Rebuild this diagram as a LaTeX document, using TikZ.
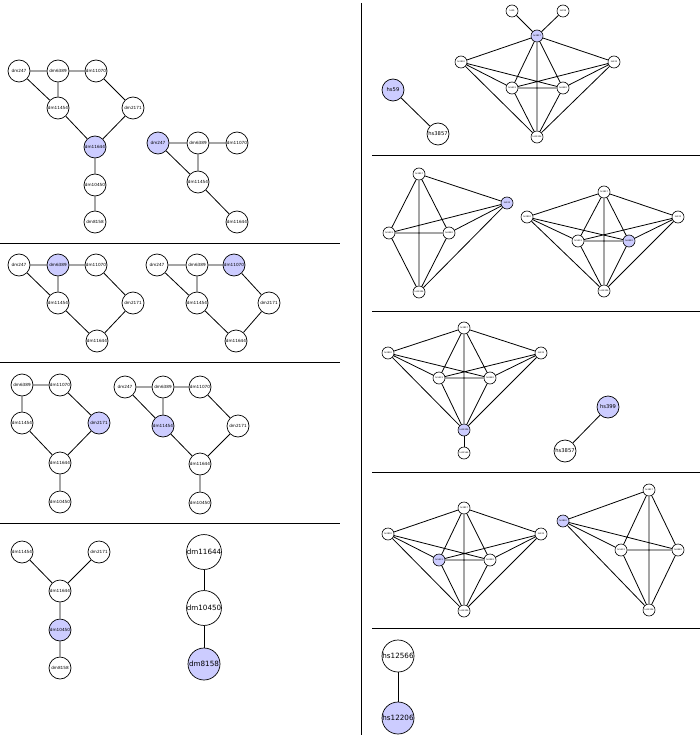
\documentclass[tikz,border=0pt]{standalone}
\usepackage{fontspec}
\setmainfont{DejaVu Sans}
\usetikzlibrary{backgrounds}
\definecolor{hlc}{RGB}{204,204,255}
\tikzset{
  nd/.style={circle, draw, line width=0.7pt, fill=white, minimum size=22pt, inner sep=0pt, font=\fontsize{4.2}{5}\selectfont},
  md/.style={nd, font=\fontsize{5.2}{6}\selectfont},
  tn/.style={circle, draw, line width=0.6pt, fill=white, minimum size=12pt, inner sep=0pt, font=\fontsize{2.1}{2.5}\selectfont},
  bg/.style={nd, minimum size=32pt, font=\fontsize{7.2}{8}\selectfont},
  hl/.style={fill=hlc},
  ed/.style={line width=0.8pt},
  sep/.style={line width=0.7pt}
}
\newcommand\kSixEdges[1]{%
  \draw[ed] (#1t)--(#1l) (#1t)--(#1r) (#1t)--(#1ml) (#1t)--(#1mr) (#1t)--(#1b)
            (#1l)--(#1ml) (#1l)--(#1mr) (#1l)--(#1b)
            (#1r)--(#1ml) (#1r)--(#1mr) (#1r)--(#1b)
            (#1ml)--(#1mr) (#1ml)--(#1b) (#1mr)--(#1b);}
\begin{document}
\begin{tikzpicture}[x=1pt,y=-1pt]
\useasboundingbox (0,0) rectangle (700,738);
% separators
\draw[sep] (361,3) -- (361,735);
\draw[sep] (0,243) -- (340,243) (0,362) -- (340,362) (0,523) -- (340,523);
\draw[sep] (372,155) -- (700,155) (372,311) -- (700,311) (372,472) -- (700,472) (372,628) -- (700,628);

% Graph A
\node[nd] (a247) at (19,71) {dm247};
\node[nd] (a6389) at (58,71) {dm6389};
\node[nd] (a11070) at (96,71) {dm11070};
\node[nd] (a11454) at (58,108) {dm11454};
\node[nd] (a2171) at (133,108) {dm2171};
\node[nd,hl] (a11644) at (95,147) {dm11644};
\node[nd] (a10450) at (95,185) {dm10450};
\node[nd] (a8158) at (95,222) {dm8158};
% Graph B
\node[nd,hl] (b247) at (158,143) {dm247};
\node[nd] (b6389) at (198,143) {dm6389};
\node[nd] (b11070) at (237,143) {dm11070};
\node[nd] (b11454) at (198,182) {dm11454};
\node[nd] (b11644) at (237,222) {dm11644};
% Graph C
\node[nd] (c247) at (19,265) {dm247};
\node[nd,hl] (c6389) at (58,265) {dm6389};
\node[nd] (c11070) at (96,265) {dm11070};
\node[nd] (c11454) at (58,303) {dm11454};
\node[nd] (c2171) at (133,303) {dm2171};
\node[nd] (c11644) at (97,341) {dm11644};
% Graph D
\node[nd] (d247) at (157,265) {dm247};
\node[nd] (d6389) at (197,265) {dm6389};
\node[nd,hl] (d11070) at (234,265) {dm11070};
\node[nd] (d11454) at (197,303) {dm11454};
\node[nd] (d2171) at (269,303) {dm2171};
\node[nd] (d11644) at (236,341) {dm11644};
% Graph E
\node[nd] (e6389) at (22,385) {dm6389};
\node[nd] (e11070) at (60,385) {dm11070};
\node[nd] (e11454) at (22,423) {dm11454};
\node[nd,hl] (e2171) at (99,423) {dm2171};
\node[nd] (e11644) at (60,463) {dm11644};
\node[nd] (e10450) at (60,502) {dm10450};
% Graph F
\node[nd] (f247) at (125,387) {dm247};
\node[nd] (f6389) at (163,387) {dm6389};
\node[nd] (f11070) at (200,387) {dm11070};
\node[nd,hl] (f11454) at (163,426) {dm11454};
\node[nd] (f2171) at (238,426) {dm2171};
\node[nd] (f11644) at (200,464) {dm11644};
\node[nd] (f10450) at (200,503) {dm10450};
% Graph G
\node[nd] (g11454) at (22,552) {dm11454};
\node[nd] (g2171) at (99,552) {dm2171};
\node[nd] (g11644) at (60,591) {dm11644};
\node[nd,hl] (g10450) at (60,630) {dm10450};
\node[nd] (g8158) at (60,668) {dm8158};
% Graph H
\node[bg] (h11644) at (204,552) {dm11644};
\node[bg] (h10450) at (204,608) {dm10450};
\node[bg,hl] (h8158) at (204,664) {dm8158};

% Right R1
\node[md,hl] (p59) at (393,90) {hs59};
\node[md] (p3857) at (438,134) {hs3857};
\node[tn] (q59) at (512,11) {hs59};
\node[tn] (q399) at (563,11) {hs399};
\node[tn,hl] (qt) at (537,36) {hs3857};
\node[tn] (ql) at (461,62) {hs2830};
\node[tn] (qr) at (614,62) {hs222};
\node[tn] (qml) at (512,88) {hs5433};
\node[tn] (qmr) at (563,88) {hs6982};
\node[tn] (qb) at (537,137) {hs12206};
% R2 left
\node[tn] (rt) at (419,174) {hs3857};
\node[tn,hl] (rr) at (507,203) {hs222};
\node[tn] (rml) at (389,233) {hs5433};
\node[tn] (rmr) at (449,233) {hs6982};
\node[tn] (rb) at (419,292) {hs12206};
% R2 right
\node[tn] (st) at (604,192) {hs3857};
\node[tn] (sl) at (527,217) {hs2830};
\node[tn] (sr) at (678,217) {hs222};
\node[tn] (sml) at (578,241) {hs5433};
\node[tn,hl] (smr) at (629,241) {hs6982};
\node[tn] (sb) at (604,291) {hs12206};
% R3
\node[tn] (ut) at (464,328) {hs3857};
\node[tn] (ul) at (388,353) {hs2830};
\node[tn] (ur) at (541,353) {hs222};
\node[tn] (uml) at (439,378) {hs5433};
\node[tn] (umr) at (490,378) {hs6982};
\node[tn,hl] (ub) at (464,430) {hs12206};
\node[tn] (ubb) at (464,453) {hs12566};
\node[md,hl] (v399) at (608,407) {hs399};
\node[md] (v3857) at (565,451) {hs3857};
% R4 left
\node[tn] (wt) at (464,508) {hs3857};
\node[tn] (wl) at (388,534) {hs2830};
\node[tn] (wr) at (541,534) {hs222};
\node[tn,hl] (wml) at (439,560) {hs5433};
\node[tn] (wmr) at (490,560) {hs6982};
\node[tn] (wb) at (464,611) {hs12206};
% R4 right
\node[tn] (xt) at (649,490) {hs3857};
\node[tn,hl] (xl) at (563,521) {hs2830};
\node[tn] (xml) at (621,550) {hs5433};
\node[tn] (xmr) at (678,550) {hs6982};
\node[tn] (xb) at (649,610) {hs12206};
% R5
\node[bg] (y12566) at (398,656) {hs12566};
\node[bg,hl] (y12206) at (398,718) {hs12206};

\begin{pgfonlayer}{background}
\draw[ed] (a247)--(a6389) (a6389)--(a11070) (a247)--(a11454) (a6389)--(a11454)
  (a11454)--(a11644) (a11070)--(a2171) (a2171)--(a11644) (a11644)--(a10450) (a10450)--(a8158);
\draw[ed] (b247)--(b6389) (b6389)--(b11070) (b247)--(b11454) (b6389)--(b11454) (b11454)--(b11644);
\draw[ed] (c247)--(c6389) (c6389)--(c11070) (c247)--(c11454) (c6389)--(c11454)
  (c11454)--(c11644) (c11070)--(c2171) (c2171)--(c11644);
\draw[ed] (d247)--(d6389) (d6389)--(d11070) (d247)--(d11454) (d6389)--(d11454)
  (d11454)--(d11644) (d11070)--(d2171) (d2171)--(d11644);
\draw[ed] (e6389)--(e11070) (e6389)--(e11454) (e11070)--(e2171) (e11454)--(e11644)
  (e2171)--(e11644) (e11644)--(e10450);
\draw[ed] (f247)--(f6389) (f6389)--(f11070) (f247)--(f11454) (f6389)--(f11454)
  (f11070)--(f2171) (f11454)--(f11644) (f2171)--(f11644) (f11644)--(f10450);
\draw[ed] (g11454)--(g11644) (g2171)--(g11644) (g11644)--(g10450) (g10450)--(g8158);
\draw[ed] (h11644)--(h10450) (h10450)--(h8158);
\draw[ed] (p59)--(p3857);
\draw[ed] (qt)--(q59) (qt)--(q399);
\kSixEdges{q}
\draw[ed] (rt)--(rr) (rt)--(rml) (rt)--(rmr) (rt)--(rb) (rr)--(rml) (rr)--(rmr) (rr)--(rb)
  (rml)--(rmr) (rml)--(rb) (rmr)--(rb);
\kSixEdges{s}
\kSixEdges{u}
\draw[ed] (ub)--(ubb);
\draw[ed] (v399)--(v3857);
\kSixEdges{w}
\draw[ed] (xt)--(xl) (xt)--(xml) (xt)--(xmr) (xt)--(xb) (xl)--(xml) (xl)--(xmr) (xl)--(xb)
  (xml)--(xmr) (xml)--(xb) (xmr)--(xb);
\draw[ed] (y12566)--(y12206);
\end{pgfonlayer}
\end{tikzpicture}
\end{document}
